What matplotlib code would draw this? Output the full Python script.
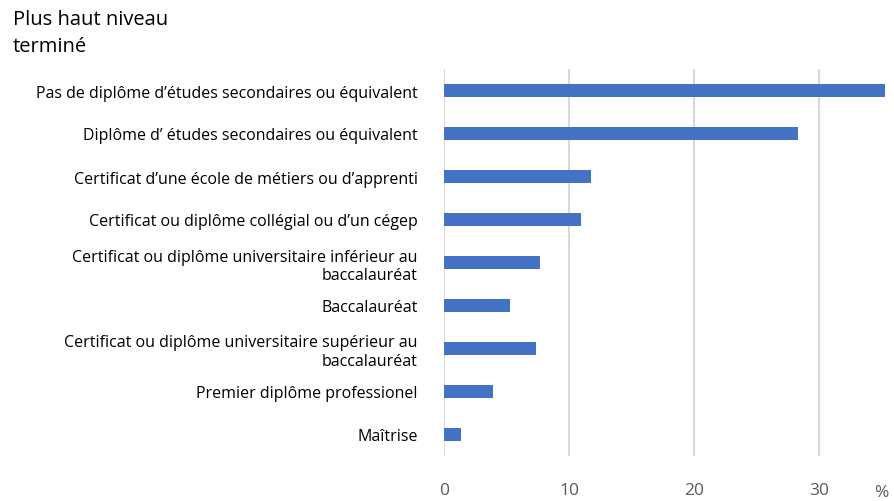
import numpy as np
import matplotlib.pyplot as plt

categories = [
    "Pas de diplôme d\u2019études secondaires ou équivalent",
    "Diplôme d\u2019 études secondaires ou équivalent",
    "Certificat d\u2019une école de métiers ou d\u2019apprenti",
    "Certificat ou diplôme collégial ou d\u2019un cégep",
    "Certificat ou diplôme universitaire inférieur au\nbaccalauréat",
    "Baccalauréat",
    "Certificat ou diplôme universitaire supérieur au\nbaccalauréat",
    "Premier diplôme professionel",
    "Maîtrise",
]
values = [35.3, 28.3, 11.8, 11.0, 7.7, 5.3, 7.4, 3.9, 1.4]
xticks = [0, 10, 20, 30]

plt.rcParams['font.family'] = ['Open Sans', 'DejaVu Sans']

fig = plt.figure(figsize=(8.95, 5.02), dpi=100)
ax = fig.add_axes([444/895, 1 - 457/502, (885-444)/895, 387/502])

y = np.arange(len(categories))
ax.barh(y, values, height=0.3, color='#4472C4', zorder=3)
ax.set_ylim(len(categories) - 0.5, -0.5)
ax.set_xlim(0, 35.3)

ax.set_yticks(y)
ax.set_yticklabels(categories, fontsize=11.5, color='#000000', ha='right',
                   multialignment='right', linespacing=1.25)
ax.set_xticks(xticks)
ax.set_xticklabels([str(t) for t in xticks], fontsize=12.5, color='#595959')
ax.tick_params(axis='y', length=0, pad=19)
ax.tick_params(axis='x', length=0, pad=19)

ax.grid(axis='x', color='#d9d9d9', linewidth=1.5, zorder=0)
for s in ['top', 'right', 'bottom', 'left']:
    ax.spines[s].set_visible(False)

fig.text(13/895, 1 - 20/502, "Plus haut niveau", fontsize=14.5, va='center', ha='left')
fig.text(13/895, 1 - 47/502, "terminé", fontsize=14.5, va='center', ha='left')
fig.text(881/895, 1 - 493/502, "%", fontsize=12.5, color='#595959', va='center', ha='center')

fig.savefig('out.png', dpi=100)
